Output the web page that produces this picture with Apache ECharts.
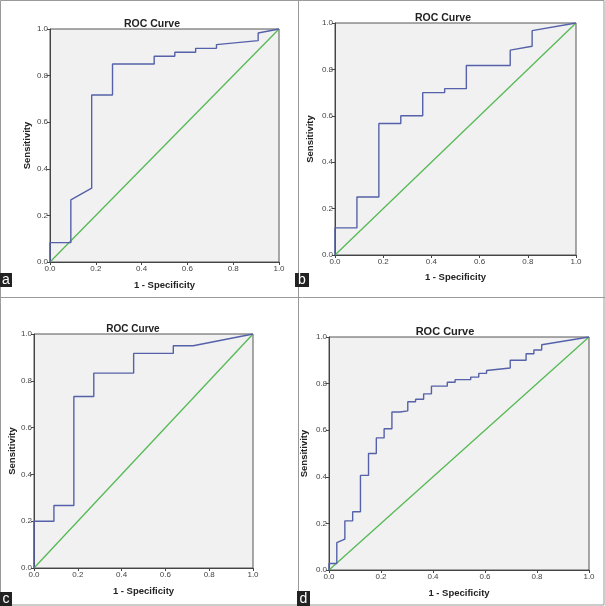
<!DOCTYPE html>
<html>
<head>
<meta charset="utf-8">
<script src="https://cdn.jsdelivr.net/npm/echarts@6/dist/echarts.min.js"></script>
<style>
html,body{margin:0;padding:0;background:#fff;}
#c{width:605px;height:606px;}
</style>
</head>
<body>
<div id="c"></div>
<script>
// ---- data ----
const tickValues = [0, 0.2, 0.4, 0.6, 0.8, 1.0];
const panelLetters = ['a', 'b', 'c', 'd'];
const titleText = 'ROC Curve';
const xName = '1 - Specificity';
const yName = 'Sensitivity';

const fprA = [0, 0, 0.091, 0.091, 0.182, 0.182, 0.273, 0.273, 0.455, 0.455, 0.545, 0.545, 0.636, 0.636, 0.727, 0.727, 0.909, 0.909, 1];
const tprA = [0, 0.083, 0.083, 0.267, 0.317, 0.717, 0.717, 0.85, 0.85, 0.883, 0.883, 0.9, 0.9, 0.917, 0.917, 0.933, 0.95, 0.983, 1];

const fprB = [0, 0, 0.091, 0.091, 0.182, 0.182, 0.273, 0.273, 0.364, 0.364, 0.455, 0.455, 0.545, 0.545, 0.727, 0.727, 0.818, 0.818, 1];
const tprB = [0, 0.117, 0.117, 0.25, 0.25, 0.567, 0.567, 0.6, 0.6, 0.7, 0.7, 0.717, 0.717, 0.817, 0.817, 0.883, 0.9, 0.967, 1];

const fprC = [0, 0, 0.091, 0.091, 0.182, 0.182, 0.273, 0.273, 0.455, 0.455, 0.636, 0.636, 0.727, 1];
const tprC = [0, 0.2, 0.2, 0.267, 0.267, 0.733, 0.733, 0.833, 0.833, 0.917, 0.917, 0.95, 0.95, 1];

const fprD = [0, 0, 0.030, 0.030, 0.061, 0.061, 0.091, 0.091, 0.121, 0.121, 0.152, 0.152, 0.182, 0.182, 0.212, 0.212, 0.242, 0.242, 0.273, 0.273, 0.303, 0.303, 0.333, 0.333, 0.364, 0.364, 0.394, 0.394, 0.455, 0.455, 0.485, 0.485, 0.545, 0.545, 0.576, 0.576, 0.606, 0.606, 0.697, 0.697, 0.758, 0.758, 0.788, 0.788, 0.818, 0.818, 1];
const tprD = [0, 0.028, 0.028, 0.117, 0.133, 0.211, 0.211, 0.25, 0.25, 0.406, 0.406, 0.5, 0.5, 0.567, 0.567, 0.606, 0.606, 0.678, 0.678, 0.683, 0.683, 0.722, 0.722, 0.733, 0.733, 0.756, 0.756, 0.789, 0.789, 0.806, 0.806, 0.817, 0.817, 0.828, 0.828, 0.844, 0.844, 0.856, 0.867, 0.9, 0.9, 0.928, 0.928, 0.944, 0.944, 0.967, 1];

const refX = [0, 1];
const refY = [0, 1];

// ---- layout ----
const panels = [
  {fpr: fprA, tpr: tprA, grid: {left: 50, top: 29, width: 229, height: 233}, title: [147, 14, 10.5], xGap: 18, yGap: 18, box: [0, 273, 12, 14]},
  {fpr: fprB, tpr: tprB, grid: {left: 335, top: 23, width: 241, height: 232}, title: [438, 8, 10.5], xGap: 17, yGap: 20, box: [295, 273, 14, 14]},
  {fpr: fprC, tpr: tprC, grid: {left: 34, top: 334, width: 219, height: 234}, title: [128, 319, 10], xGap: 18, yGap: 16, box: [0, 592, 12, 14]},
  {fpr: fprD, tpr: tprD, grid: {left: 329, top: 337, width: 260, height: 233}, title: [440, 321, 11], xGap: 18, yGap: 20, box: [297, 591, 13, 15]}
];

const FONT = '"Liberation Sans", Arial, sans-serif';
const zip = (a, b) => a.map((v, i) => [v, b[i]]);

const option = {
  animation: false,
  backgroundColor: '#ffffff',
  title: panels.map(p => ({
    text: titleText,
    left: p.title[0],
    top: p.title[1],
    textAlign: 'center',
    textStyle: {fontFamily: FONT, fontWeight: 'bold', fontSize: p.title[2], color: '#222'}
  })),
  grid: panels.map(p => Object.assign({
    show: true, backgroundColor: '#f1f1f1', borderColor: '#555', borderWidth: 1
  }, p.grid)),
  xAxis: panels.map((p, i) => ({
    type: 'value', gridIndex: i, min: 0, max: 1, interval: 0.2,
    name: xName, nameLocation: 'middle', nameGap: p.xGap,
    nameTextStyle: {fontFamily: FONT, fontWeight: 'bold', fontSize: 9.5, color: '#222'},
    axisLine: {show: true, lineStyle: {color: '#444', width: 1}},
    axisTick: {show: true, length: 3, lineStyle: {color: '#444'}},
    axisLabel: {fontFamily: FONT, fontSize: 8, color: '#444', margin: 3,
      formatter: v => tickValues.indexOf(Math.round(v * 10) / 10) >= 0 ? v.toFixed(1) : ''},
    splitLine: {show: false}
  })),
  yAxis: panels.map((p, i) => ({
    type: 'value', gridIndex: i, min: 0, max: 1, interval: 0.2,
    name: yName, nameLocation: 'middle', nameGap: p.yGap,
    nameTextStyle: {fontFamily: FONT, fontWeight: 'bold', fontSize: 9.5, color: '#222'},
    axisLine: {show: true, lineStyle: {color: '#444', width: 1}},
    axisTick: {show: true, length: 3, lineStyle: {color: '#444'}},
    axisLabel: {fontFamily: FONT, fontSize: 8, color: '#444', margin: 2,
      formatter: v => v.toFixed(1)},
    splitLine: {show: false}
  })),
  series: [].concat(...panels.map((p, i) => [
    {
      type: 'line', xAxisIndex: i, yAxisIndex: i, data: zip(refX, refY),
      showSymbol: false, silent: true, z: 3,
      lineStyle: {color: '#55b955', width: 1.3}
    },
    {
      type: 'line', xAxisIndex: i, yAxisIndex: i, data: zip(p.fpr, p.tpr),
      showSymbol: false, silent: true, z: 4,
      lineStyle: {color: '#5561a8', width: 1.4}
    }
  ])),
  graphic: [
    {type: 'rect', shape: {x: 0.5, y: 0.5, width: 603.5, height: 604.5}, style: {fill: 'none', stroke: '#999', lineWidth: 1}, z: 0},
    {type: 'line', shape: {x1: 298.5, y1: 0, x2: 298.5, y2: 606}, style: {stroke: '#999', lineWidth: 1}, z: 0},
    {type: 'line', shape: {x1: 0, y1: 297.5, x2: 605, y2: 297.5}, style: {stroke: '#999', lineWidth: 1}, z: 0}
  ].concat(...panels.map((p, i) => [
    {type: 'rect', shape: {x: p.box[0], y: p.box[1], width: p.box[2], height: p.box[3]}, style: {fill: '#222'}, z: 10},
    {type: 'text', x: p.box[0] + p.box[2] / 2, y: p.box[1] + p.box[3] / 2 + 0.5,
      style: {text: panelLetters[i], fill: '#fff', font: '14px ' + FONT, textAlign: 'center', textVerticalAlign: 'middle'}, z: 11}
  ]))
};

echarts.init(document.getElementById('c'), null, {renderer: 'canvas'}).setOption(option);
</script>
</body>
</html>
